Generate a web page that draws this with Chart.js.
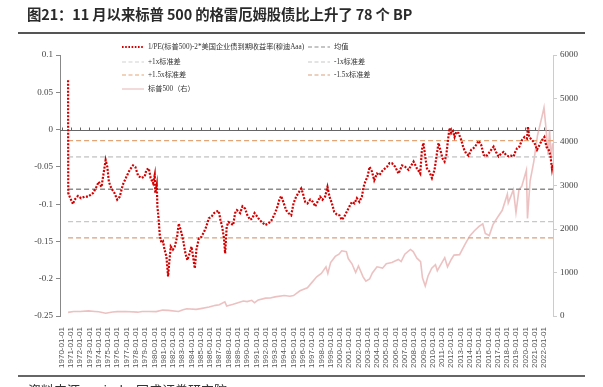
<!DOCTYPE html>
<html>
<head>
<meta charset="utf-8">
<script src="https://cdn.jsdelivr.net/npm/chart.js@4.4.1/dist/chart.umd.min.js"></script>
<style>
  body { margin: 0; width: 603px; height: 387px; overflow: hidden; background: #fff; position: relative; font-family: "Noto Sans CJK SC", sans-serif; }
  #wrap { position: absolute; left: 0; top: 0; width: 603px; height: 387px; }
  .title { position: absolute; left: 27px; top: 3px; font-size: 14.4px; font-weight: bold; color: #2a2a2a; white-space: nowrap; letter-spacing: -0.1px; }
  .rule { position: absolute; left: 18px; width: 567px; height: 2px; background: #555; }
  .item { position: absolute; white-space: nowrap; display: flex; align-items: center; font-family: "Liberation Serif", "Noto Sans CJK SC", serif; font-size: 7.2px; color: #333; line-height: 10px; }
  .item svg { margin-right: 4px; }
  .source { position: absolute; left: 28px; top: 380px; font-size: 13px; color: #333; white-space: nowrap; }
</style>
</head>
<body>
<div id="wrap"><canvas id="myChart" width="603" height="387"></canvas></div>
<div class="title">图21：11 月以来标普 500 的格雷厄姆股债比上升了 78 个 BP</div>
<div class="rule" style="top:32px"></div>
<div id="legend"></div>
<div class="rule" style="top:375px;background:#666"></div>
<div class="source">资料来源：wind，国盛证券研究院</div>
<script>
// 1/PE - 2*Aaa yield (decimal years)
const ratioDates = [
  1970.70, 1970.72, 1970.87, 1971.05, 1971.23, 1971.40, 1971.77, 1972.10, 1972.50, 1972.85,
  1973.40, 1973.75, 1974.00, 1974.30, 1974.50, 1974.75, 1974.93, 1975.10, 1975.37, 1975.70,
  1976.00, 1976.27, 1976.60, 1977.00, 1977.35, 1977.70, 1977.95, 1978.25, 1978.60, 1978.96,
  1979.14, 1979.40, 1979.60, 1979.86, 1980.04, 1980.10, 1980.26, 1980.33, 1980.47, 1980.58,
  1980.76, 1980.94, 1981.10, 1981.30, 1981.48, 1981.60, 1981.77, 1982.00, 1982.20, 1982.45,
  1982.63, 1982.85, 1983.10, 1983.35, 1983.56, 1983.80, 1984.00, 1984.17, 1984.36, 1984.53,
  1984.80, 1985.07, 1985.36, 1985.60, 1985.87, 1986.15, 1986.44, 1986.70, 1986.94, 1987.12,
  1987.30, 1987.50, 1987.63, 1987.80, 1987.98, 1988.24, 1988.50, 1988.70, 1988.90, 1989.25,
  1989.50, 1989.78, 1990.03, 1990.33, 1990.57, 1990.80, 1991.05, 1991.33, 1991.58, 1991.94,
  1992.30, 1992.66, 1992.90, 1993.20, 1993.48, 1993.67, 1993.90, 1994.20, 1994.45, 1994.75,
  1995.00, 1995.28, 1995.53, 1995.83, 1996.00, 1996.26, 1996.50, 1996.80, 1997.10, 1997.34,
  1997.58, 1997.87, 1998.12, 1998.40, 1998.66, 1998.88, 1999.14, 1999.38, 1999.67, 1999.96,
  2000.20, 2000.46, 2000.75, 2001.03, 2001.30, 2001.57, 2001.83, 2002.10, 2002.37, 2002.55,
  2002.73, 2002.98, 2003.20, 2003.45, 2003.70, 2004.00, 2004.27, 2004.53, 2004.78, 2005.07,
  2005.35, 2005.60, 2005.97, 2006.32, 2006.70, 2007.04, 2007.40, 2007.94, 2008.30, 2008.66,
  2008.84, 2009.00, 2009.20, 2009.38, 2009.63, 2009.92, 2010.20, 2010.46, 2010.63, 2010.82,
  2011.07, 2011.28, 2011.47, 2011.65, 2011.82, 2012.00, 2012.19, 2012.36, 2012.55, 2012.80,
  2013.08, 2013.33, 2013.60, 2013.87, 2014.16, 2014.40, 2014.67, 2014.95, 2015.24, 2015.50,
  2015.75, 2016.03, 2016.32, 2016.57, 2016.83, 2017.10, 2017.40, 2017.65, 2017.90, 2018.19,
  2018.45, 2018.73, 2018.90, 2019.10, 2019.34, 2019.63, 2019.90, 2020.16, 2020.27, 2020.40,
  2020.70, 2020.98, 2021.25, 2021.50, 2021.79, 2022.04, 2022.26, 2022.50, 2022.68, 2022.86,
  2022.92
];
const ratioValues = [
  0.066, -0.085, -0.090, -0.095, -0.100, -0.094, -0.089, -0.092, -0.090, -0.090,
  -0.085, -0.077, -0.070, -0.077, -0.061, -0.041, -0.050, -0.070, -0.079, -0.085,
  -0.094, -0.090, -0.074, -0.063, -0.054, -0.048, -0.050, -0.062, -0.065, -0.063,
  -0.054, -0.052, -0.065, -0.072, -0.061, -0.085, -0.074, -0.103, -0.121, -0.141,
  -0.152, -0.150, -0.161, -0.170, -0.197, -0.179, -0.157, -0.161, -0.157, -0.144,
  -0.126, -0.135, -0.148, -0.166, -0.175, -0.166, -0.157, -0.170, -0.186, -0.161,
  -0.146, -0.144, -0.137, -0.130, -0.119, -0.117, -0.112, -0.110, -0.109, -0.121,
  -0.130, -0.145, -0.166, -0.130, -0.124, -0.126, -0.128, -0.112, -0.108, -0.112,
  -0.103, -0.106, -0.115, -0.121, -0.119, -0.112, -0.116, -0.121, -0.124, -0.128,
  -0.126, -0.121, -0.115, -0.106, -0.094, -0.089, -0.097, -0.108, -0.112, -0.115,
  -0.099, -0.090, -0.085, -0.079, -0.085, -0.097, -0.099, -0.094, -0.097, -0.103,
  -0.097, -0.090, -0.094, -0.090, -0.077, -0.090, -0.099, -0.110, -0.114, -0.115,
  -0.121, -0.117, -0.110, -0.103, -0.097, -0.099, -0.092, -0.097, -0.090, -0.077,
  -0.070, -0.063, -0.050, -0.056, -0.068, -0.059, -0.061, -0.056, -0.053, -0.050,
  -0.045, -0.045, -0.050, -0.059, -0.048, -0.050, -0.054, -0.043, -0.052, -0.059,
  -0.027, -0.018, -0.036, -0.052, -0.056, -0.065, -0.054, -0.032, -0.018, -0.027,
  -0.039, -0.043, -0.034, -0.014, 0.002, -0.005, -0.002, -0.010, -0.003, -0.005,
  -0.014, -0.025, -0.032, -0.035, -0.027, -0.025, -0.021, -0.015, -0.021, -0.034,
  -0.036, -0.032, -0.027, -0.023, -0.030, -0.036, -0.032, -0.030, -0.034, -0.036,
  -0.035, -0.036, -0.030, -0.025, -0.023, -0.014, -0.010, -0.012, 0.004, -0.010,
  -0.014, -0.018, -0.027, -0.021, -0.014, -0.010, -0.023, -0.027, -0.034, -0.052,
  -0.047
];

// S&P 500 level (right axis)
const spxDates = [
  1970.70, 1971.30, 1972.00, 1972.90, 1973.60, 1974.00, 1974.75, 1975.50, 1976.00, 1976.90,
  1978.20, 1978.70, 1979.50, 1980.20, 1980.90, 1981.50, 1982.60, 1983.10, 1983.50, 1984.50,
  1985.00, 1985.90, 1986.60, 1987.00, 1987.60, 1987.80, 1988.50, 1989.60, 1990.00, 1990.50,
  1990.80, 1991.20, 1992.00, 1992.50, 1993.00, 1994.00, 1994.60, 1995.00, 1995.70, 1996.50,
  1996.90, 1997.50, 1998.00, 1998.50, 1998.70, 1999.00, 1999.50, 1999.90, 2000.20, 2000.70,
  2000.90, 2001.30, 2001.70, 2002.00, 2002.50, 2002.80, 2003.20, 2003.50, 2004.00, 2004.60,
  2005.00, 2005.60, 2006.30, 2006.60, 2007.00, 2007.60, 2007.90, 2008.30, 2008.70, 2008.90,
  2009.20, 2009.50, 2009.90, 2010.30, 2010.50, 2011.30, 2011.60, 2012.00, 2012.30, 2012.90,
  2013.50, 2014.00, 2014.50, 2015.00, 2015.40, 2015.67, 2016.10, 2016.50, 2017.00, 2017.50,
  2018.05, 2018.15, 2018.70, 2018.98, 2019.30, 2019.60, 2020.10, 2020.22, 2020.50, 2020.90,
  2021.30, 2021.80, 2022.00, 2022.20, 2022.45, 2022.60, 2022.78, 2022.92
];
const spxValues = [
  84, 102, 102, 118, 105, 97, 64, 92, 100, 105,
  88, 104, 102, 100, 136, 130, 105, 145, 168, 152,
  170, 205, 245, 260, 325, 230, 270, 345, 330, 360,
  305, 370, 410, 415, 440, 470, 455, 470, 580, 650,
  750, 900, 980, 1130, 980, 1230, 1370, 1420, 1500, 1480,
  1320, 1200, 1000, 1150, 900, 800, 850, 990, 1130, 1100,
  1200, 1230, 1300, 1250, 1420, 1530, 1480, 1330, 1250, 880,
  690, 920, 1100, 1180, 1040, 1340, 1130, 1300, 1400, 1410,
  1650, 1840, 1960, 2060, 2120, 1900, 1850, 2100, 2270, 2430,
  2800, 2600, 2900, 2380, 2900, 2980, 3350, 2240, 3100, 3550,
  4150, 4600, 4790, 4350, 3700, 4280, 3580, 3970
];

// mean and standard-deviation bands
const meanLevel = -0.080;
const plus1Level = -0.0365;
const minus1Level = -0.1235;
const plus15Level = -0.0148;
const minus15Level = -0.1453;

const yearTicks = [];
for (let yr = 1970; yr <= 2022; yr++) yearTicks.push(yr);
const leftTicks = [-0.25, -0.2, -0.15, -0.1, -0.05, 0, 0.05, 0.1];
const leftTickLabels = ['-0.25', '-0.2', '-0.15', '-0.1', '-0.05', '0', '0.05', '0.1'];
const rightTicks = [0, 1000, 2000, 3000, 4000, 5000, 6000];

const xMin = 1969.83, xMax = 2022.97;
const bandStart = ratioDates[0];

const toPoints = (xs, ys) => xs.map((x, i) => ({ x: x, y: ys[i] }));
const flat = (v) => [{ x: bandStart, y: v }, { x: xMax, y: v }];

const zeroAxis = {
  id: 'zeroAxis',
  beforeDatasetsDraw(chart) {
    const { ctx, scales: { x, y }, chartArea } = chart;
    const y0 = Math.round(y.getPixelForValue(0)) + 0.5;
    ctx.save();
    ctx.strokeStyle = '#666';
    ctx.lineWidth = 1;
    ctx.beginPath();
    ctx.moveTo(chartArea.left, y0);
    ctx.lineTo(chartArea.right, y0);
    yearTicks.forEach((t) => {
      const px = Math.round(x.getPixelForValue(t)) + 0.5;
      ctx.moveTo(px, y0);
      ctx.lineTo(px, y0 - 3);
    });
    ctx.stroke();
    ctx.restore();
  },
};

const dashed = [5, 3];
const ctx = document.getElementById('myChart');
const chart = new Chart(ctx, {
  type: 'line',
  data: {
    datasets: [
      {
        label: '1/PE(标普500)-2*美国企业债到期收益率(穆迪Aaa)',
        data: toPoints(ratioDates, ratioValues),
        borderColor: '#d20000',
        borderWidth: 2.2,
        borderDash: [2, 1.5],
        yAxisID: 'y',
      },
      { label: '均值', data: flat(meanLevel), borderColor: '#8c8c8c', borderWidth: 1.3, borderDash: dashed, yAxisID: 'y' },
      { label: '+1x标准差', data: flat(plus1Level), borderColor: '#d2d2d2', borderWidth: 1.8, borderDash: dashed, yAxisID: 'y' },
      { label: '-1x标准差', data: flat(minus1Level), borderColor: '#c8c8c8', borderWidth: 1.3, borderDash: dashed, yAxisID: 'y' },
      { label: '+1.5x标准差', data: flat(plus15Level), borderColor: '#e3a577', borderWidth: 1.3, borderDash: dashed, yAxisID: 'y' },
      { label: '-1.5x标准差', data: flat(minus15Level), borderColor: '#d9a07a', borderWidth: 1.3, borderDash: dashed, yAxisID: 'y' },
      {
        label: '标普500（右）',
        data: toPoints(spxDates, spxValues),
        borderColor: 'rgba(226, 160, 160, 0.65)',
        borderWidth: 1.6,
        yAxisID: 'y1',
      },
    ],
  },
  options: {
    responsive: false,
    animation: false,
    events: [],
    elements: { point: { radius: 0 }, line: { tension: 0 } },
    layout: { padding: { top: 55, bottom: 11, left: 0, right: 0 } },
    plugins: { legend: { display: false }, tooltip: { enabled: false } },
    scales: {
      x: {
        type: 'linear',
        min: xMin,
        max: xMax,
        afterBuildTicks: (axis) => { axis.ticks = yearTicks.map((v) => ({ value: v })); },
        afterFit: (axis) => { axis.height = 60; },
        grid: { display: false },
        border: { display: false },
        ticks: {
          autoSkip: false,
          maxRotation: 90,
          minRotation: 90,
          padding: 3,
          color: '#555',
          font: { family: 'Liberation Sans', size: 8 },
          callback: (v) => v + '-01-01',
        },
      },
      y: {
        position: 'left',
        min: -0.25,
        max: 0.1,
        afterBuildTicks: (axis) => { axis.ticks = leftTicks.map((v) => ({ value: v })); },
        afterFit: (axis) => { axis.width = 60; },
        grid: { drawOnChartArea: false, tickLength: 4, tickColor: '#888' },
        border: { color: '#888' },
        ticks: {
          padding: 3,
          color: '#444',
          font: { family: 'Liberation Serif', size: 9 },
          callback: (v, i) => leftTickLabels[i],
        },
      },
      y1: {
        position: 'right',
        min: 0,
        max: 6000,
        afterBuildTicks: (axis) => { axis.ticks = rightTicks.map((v) => ({ value: v })); },
        afterFit: (axis) => { axis.width = 50; },
        grid: { drawOnChartArea: false, tickLength: 4, tickColor: '#ccc' },
        border: { color: '#ccc' },
        ticks: {
          padding: 3,
          color: '#444',
          font: { family: 'Liberation Serif', size: 9 },
          callback: (v) => String(v),
        },
      },
    },
  },
  plugins: [zeroAxis],
});

// html legend laid out in two columns like the original
const legendSpots = [[122, 42], [308, 42], [122, 57], [308, 57], [122, 70], [308, 70], [122, 84]];
const legendBox = document.getElementById('legend');
chart.data.datasets.forEach((ds, i) => {
  const item = document.createElement('div');
  item.className = 'item';
  item.style.left = legendSpots[i][0] + 'px';
  item.style.top = legendSpots[i][1] + 'px';
  const dash = ds.borderDash ? (i === 0 ? '1.6,1.6' : '4,2.5') : 'none';
  const w = i === 0 ? 2 : 1.2;
  item.innerHTML =
    '<svg width="22" height="6"><line x1="0" y1="3" x2="22" y2="3" stroke="' + ds.borderColor +
    '" stroke-width="' + w + '" stroke-dasharray="' + dash + '"/></svg><span>' + ds.label + '</span>';
  legendBox.appendChild(item);
});
</script>
</body>
</html>
